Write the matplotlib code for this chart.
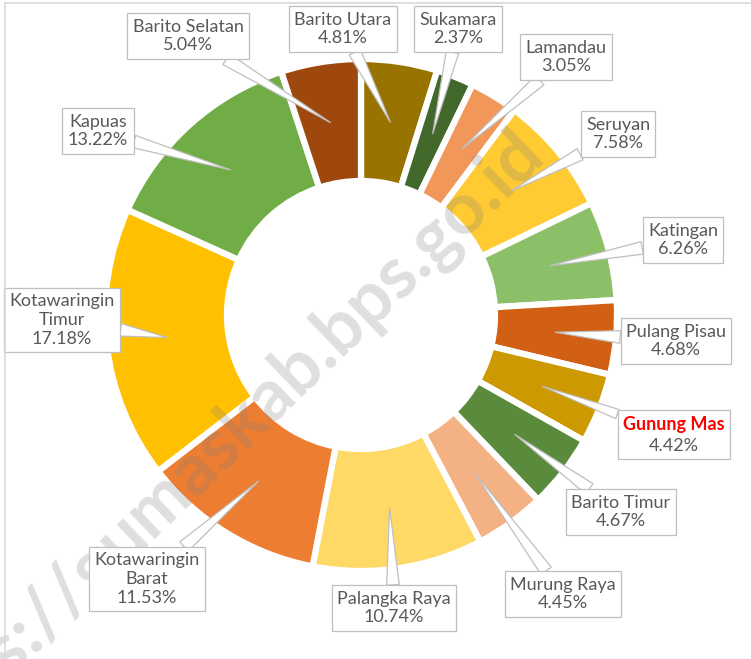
import matplotlib.pyplot as plt
from matplotlib.patches import Rectangle
import numpy as np

plt.rcParams["font.family"] = ["Lato", "DejaVu Sans"]

# share of each regency (clockwise from 12 o'clock)
regions = ["Barito Utara", "Sukamara", "Lamandau", "Seruyan", "Katingan",
           "Pulang Pisau", "Gunung Mas", "Barito Timur", "Murung Raya",
           "Palangka Raya", "Kotawaringin\nBarat", "Kotawaringin\nTimur",
           "Kapuas", "Barito Selatan"]
shares = [4.81, 2.37, 3.05, 7.58, 6.26, 4.68, 4.42, 4.67, 4.45,
          10.74, 11.53, 17.18, 13.22, 5.04]
colors = ["#997300", "#43682B", "#F1975A", "#FFCA32", "#8CC068",
          "#D26014", "#CC9900", "#5A8A3C", "#F4B183", "#FFD966",
          "#ED7D31", "#FFC000", "#70AD47", "#9E480E"]
highlight = "Gunung Mas"

# label box centres, in pixels from the top-left corner
label_xy = [(343, 29), (458, 29), (566, 57), (618, 134), (683, 240),
            (676, 341), (674, 435), (621, 512), (563, 594), (394, 608),
            (147, 579), (62, 320), (98, 131), (188, 36)]

W, H = 751, 659
CX, CY = 361, H - 315
R_OUT, R_IN = 256, 134
TEXT = "#595959"
EDGE = "#BFBFBF"
FS = 13
LS = 1.2

fig = plt.figure(figsize=(W / 100, H / 100), dpi=100)
ax = fig.add_axes([0, 0, 1, 1])

wedges, _ = ax.pie(shares, colors=colors, startangle=90, counterclock=False,
                   center=(CX, CY), radius=R_OUT,
                   wedgeprops=dict(width=R_OUT - R_IN, edgecolor="white", linewidth=4.5))
ax.set_xlim(0, W)
ax.set_ylim(0, H)
ax.set_aspect("equal")
ax.axis("off")

r_mid = (R_OUT + R_IN) / 2
box = dict(boxstyle="square,pad=0.3", fc="white", ec=EDGE, lw=0.9)
arrow = dict(arrowstyle="wedge,tail_width=0.7,shrink_factor=0.5",
             fc="white", ec=EDGE, lw=0.9, shrinkA=0, shrinkB=0)

for w, name, val, (bx, by) in zip(wedges, regions, shares, label_xy):
    mid = np.deg2rad((w.theta1 + w.theta2) / 2)
    tip = (CX + r_mid * np.cos(mid), CY + r_mid * np.sin(mid))
    if name == highlight:
        # two-colour label: build the box from the extents of both lines
        dy = FS * LS / 2
        t1 = ax.annotate(name, xy=(bx, H - by), xytext=(0, dy), textcoords="offset points",
                         ha="center", va="center", fontsize=FS, fontweight="bold",
                         color="#FF0000", zorder=6)
        t2 = ax.annotate(f"{val:.2f}%", xy=(bx, H - by), xytext=(0, -dy),
                         textcoords="offset points", ha="center", va="center",
                         fontsize=FS, color=TEXT, zorder=6)
        fig.canvas.draw()
        inv = ax.transData.inverted()
        e1, e2 = t1.get_window_extent(), t2.get_window_extent()
        (x0, y0) = inv.transform((min(e1.x0, e2.x0), min(e1.y0, e2.y0)))
        (x1, y1) = inv.transform((max(e1.x1, e2.x1), max(e1.y1, e2.y1)))
        pad = 0.3 * FS * 100 / 72
        rect = Rectangle((x0 - pad, y0 - pad), x1 - x0 + 2 * pad, y1 - y0 + 2 * pad,
                         fc="white", ec=EDGE, lw=0.9, zorder=5)
        ax.add_patch(rect)
        ax.annotate("", xy=tip, xytext=(bx, H - by),
                    arrowprops=dict(arrow, patchA=rect), zorder=4)
    else:
        ax.annotate(f"{name}\n{val:.2f}%", xy=tip, xytext=(bx, H - by),
                    ha="center", va="center", fontsize=FS, color=TEXT,
                    linespacing=LS, bbox=box, arrowprops=arrow, zorder=4)

# watermark
ax.text(546, H - 156, "https://gumaskab.bps.go.id", rotation=44,
        rotation_mode="anchor", ha="right", va="baseline", fontsize=52,
        fontweight="bold", color="#808080", alpha=0.25, zorder=3)

# chart-area border (top and left edges visible)
ax.plot([5, W], [H - 3, H - 3], color="#D9D9D9", lw=1.2, zorder=7)
ax.plot([5, 5], [H - 3, 0], color="#D9D9D9", lw=1.2, zorder=7)

fig.savefig("out.png", dpi=100)
